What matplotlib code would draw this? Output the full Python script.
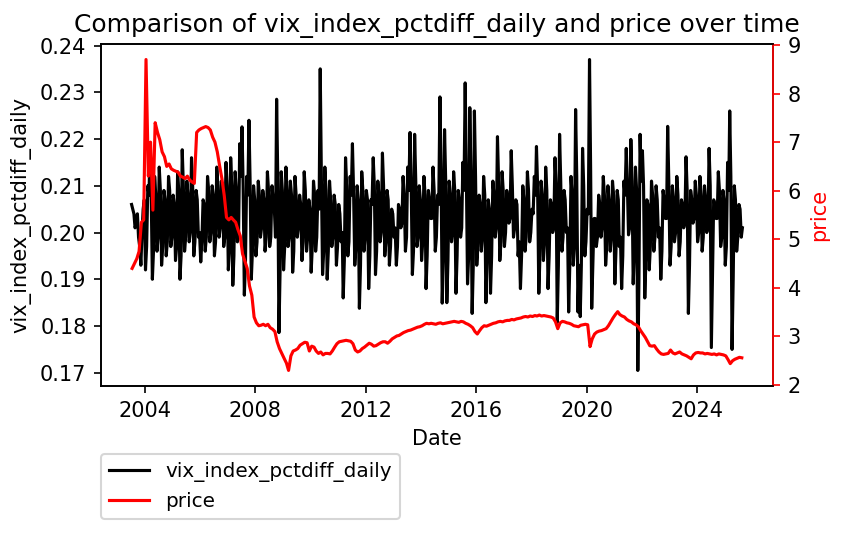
import pandas as pd
from matplotlib import pyplot as plt

months = pd.date_range("2003-07-01", periods=266, freq="MS")

# vix pct-diff, early-month readings (Jul 2003 .. Aug 2025)
vix_early = [
    0.206, 0.204, 0.202, 0.199, 0.193, 0.205,
    0.192, 0.210, 0.2175, 0.190, 0.212, 0.196, 0.214, 0.193, 0.209, 0.195, 0.212, 0.197,
    0.208, 0.194, 0.213, 0.190, 0.2177, 0.196, 0.211, 0.198, 0.216, 0.195, 0.209, 0.199,
    0.1937, 0.207, 0.196, 0.212, 0.198, 0.210, 0.195, 0.214, 0.199, 0.211, 0.197, 0.215,
    0.192, 0.216, 0.1887, 0.213, 0.198, 0.219, 0.2226, 0.1866, 0.212, 0.224, 0.190, 0.210,
    0.195, 0.211, 0.199, 0.209, 0.196, 0.213, 0.197, 0.210, 0.205, 0.2285, 0.1786, 0.213,
    0.192, 0.214, 0.197, 0.211, 0.1915, 0.212, 0.199, 0.208, 0.194, 0.213, 0.196, 0.207,
    0.1915, 0.211, 0.196, 0.209, 0.235, 0.191, 0.214, 0.190, 0.211, 0.197, 0.208, 0.193,
    0.206, 0.198, 0.186, 0.216, 0.195, 0.212, 0.219, 0.193, 0.210, 0.1838, 0.213, 0.196,
    0.209, 0.188, 0.207, 0.216, 0.191, 0.211, 0.198, 0.217, 0.195, 0.209, 0.193, 0.205,
    0.199, 0.193, 0.206, 0.201, 0.212, 0.196, 0.214, 0.2214, 0.191, 0.221, 0.197, 0.210,
    0.194, 0.212, 0.188, 0.209, 0.203, 0.214, 0.196, 0.208, 0.229, 0.1849, 0.222, 0.185,
    0.211, 0.198, 0.213, 0.187, 0.209, 0.199, 0.215, 0.232, 0.189, 0.2267, 0.1827, 0.226,
    0.193, 0.208, 0.196, 0.212, 0.185, 0.207, 0.187, 0.211, 0.199, 0.2205, 0.194, 0.213,
    0.197, 0.209, 0.202, 0.2175, 0.199, 0.207, 0.195, 0.188, 0.210, 0.196, 0.213, 0.198,
    0.205, 0.212, 0.2184, 0.187, 0.211, 0.194, 0.214, 0.188, 0.207, 0.200, 0.216, 0.1808,
    0.221, 0.196, 0.209, 0.200, 0.183, 0.212, 0.193, 0.2263, 0.183, 0.182, 0.218, 0.195,
    0.205, 0.237, 0.1838, 0.203, 0.197, 0.208, 0.199, 0.212, 0.193, 0.210, 0.196, 0.211,
    0.189, 0.209, 0.197, 0.188, 0.211, 0.218, 0.1995, 0.2199, 0.189, 0.214, 0.1705, 0.221,
    0.2175, 0.186, 0.207, 0.192, 0.211, 0.196, 0.210, 0.199, 0.190, 0.209, 0.203, 0.2227,
    0.193, 0.210, 0.198, 0.212, 0.195, 0.207, 0.201, 0.2162, 0.1827, 0.209, 0.202, 0.211,
    0.198, 0.212, 0.196, 0.210, 0.200, 0.218, 0.1754, 0.207, 0.203, 0.213, 0.197, 0.209,
    0.193, 0.215, 0.226, 0.175, 0.210, 0.196, 0.206, 0.199,
]

# vix pct-diff, late-month readings
vix_late = [
    0.205, 0.201, 0.204, 0.197, 0.200, 0.207,
    0.197, 0.208, 0.209, 0.196, 0.208, 0.199, 0.209, 0.197, 0.207, 0.198, 0.209, 0.199,
    0.206, 0.197, 0.209, 0.195, 0.210, 0.199, 0.208, 0.200, 0.210, 0.198, 0.207, 0.200,
    0.198, 0.206, 0.199, 0.209, 0.200, 0.208, 0.198, 0.210, 0.201, 0.208, 0.199, 0.210,
    0.196, 0.210, 0.195, 0.209, 0.199, 0.212, 0.210, 0.194, 0.208, 0.211, 0.196, 0.207,
    0.198, 0.208, 0.201, 0.207, 0.199, 0.209, 0.199, 0.207, 0.199, 0.212, 0.192, 0.209,
    0.197, 0.209, 0.199, 0.208, 0.196, 0.208, 0.201, 0.206, 0.198, 0.209, 0.199, 0.205,
    0.197, 0.208, 0.199, 0.205, 0.212, 0.196, 0.209, 0.196, 0.207, 0.199, 0.206, 0.197,
    0.204, 0.200, 0.194, 0.210, 0.198, 0.208, 0.209, 0.197, 0.207, 0.193, 0.209, 0.199,
    0.207, 0.195, 0.206, 0.210, 0.196, 0.208, 0.200, 0.210, 0.198, 0.207, 0.197, 0.204,
    0.201, 0.197, 0.205, 0.202, 0.208, 0.199, 0.209, 0.211, 0.196, 0.211, 0.199, 0.207,
    0.198, 0.208, 0.195, 0.207, 0.203, 0.209, 0.199, 0.206, 0.213, 0.194, 0.211, 0.194,
    0.208, 0.200, 0.209, 0.195, 0.207, 0.201, 0.209, 0.213, 0.195, 0.212, 0.193, 0.212,
    0.197, 0.206, 0.199, 0.208, 0.194, 0.205, 0.195, 0.208, 0.201, 0.211, 0.198, 0.209,
    0.200, 0.207, 0.203, 0.210, 0.201, 0.206, 0.198, 0.195, 0.207, 0.199, 0.209, 0.200,
    0.204, 0.208, 0.210, 0.195, 0.208, 0.198, 0.209, 0.195, 0.206, 0.201, 0.210, 0.193,
    0.211, 0.199, 0.207, 0.201, 0.193, 0.208, 0.197, 0.212, 0.193, 0.193, 0.210, 0.198,
    0.204, 0.213, 0.193, 0.203, 0.199, 0.206, 0.201, 0.208, 0.197, 0.207, 0.199, 0.208,
    0.196, 0.207, 0.199, 0.195, 0.208, 0.210, 0.201, 0.211, 0.196, 0.209, 0.190, 0.211,
    0.210, 0.194, 0.206, 0.197, 0.208, 0.199, 0.207, 0.201, 0.196, 0.207, 0.203, 0.211,
    0.197, 0.207, 0.200, 0.208, 0.198, 0.206, 0.202, 0.209, 0.193, 0.207, 0.203, 0.208,
    0.200, 0.208, 0.199, 0.207, 0.201, 0.210, 0.191, 0.206, 0.203, 0.209, 0.199, 0.207,
    0.197, 0.209, 0.212, 0.190, 0.207, 0.199, 0.205, 0.201,
]

# price, mid-month readings
price = [
    4.40, 4.50, 4.60, 4.75, 5.35, 5.40,
    8.70, 6.30, 7.00, 5.60, 7.40, 7.20, 7.05, 6.80, 6.70, 6.50, 6.55, 6.45,
    6.42, 6.40, 6.38, 6.30, 6.28, 6.25, 6.30, 6.22, 6.18, 6.15, 7.20, 7.25,
    7.28, 7.30, 7.32, 7.30, 7.25, 7.10, 7.00, 6.80, 6.51, 6.25, 5.90, 5.45,
    5.40, 5.45, 5.40, 5.35, 5.20, 5.07, 4.70, 4.55, 4.40, 4.04, 3.85, 3.40,
    3.28, 3.22, 3.23, 3.25, 3.22, 3.25, 3.18, 3.15, 3.10, 2.89, 2.75, 2.65,
    2.55, 2.45, 2.30, 2.60, 2.70, 2.72, 2.75, 2.82, 2.85, 2.88, 2.87, 2.70,
    2.80, 2.78, 2.70, 2.65, 2.68, 2.62, 2.65, 2.65, 2.64, 2.70, 2.78, 2.85,
    2.89, 2.90, 2.91, 2.92, 2.91, 2.90, 2.85, 2.72, 2.68, 2.70, 2.75, 2.78,
    2.82, 2.86, 2.84, 2.80, 2.81, 2.84, 2.87, 2.89, 2.89, 2.86, 2.90, 2.95,
    2.98, 3.01, 3.02, 3.05, 3.08, 3.10, 3.12, 3.13, 3.15, 3.17, 3.19, 3.20,
    3.22, 3.25, 3.27, 3.26, 3.27, 3.26, 3.25, 3.27, 3.28, 3.26, 3.27, 3.28,
    3.29, 3.30, 3.31, 3.30, 3.29, 3.31, 3.30, 3.27, 3.25, 3.22, 3.18, 3.10,
    3.05, 3.12, 3.18, 3.22, 3.21, 3.23, 3.25, 3.27, 3.28, 3.30, 3.31, 3.30,
    3.32, 3.33, 3.33, 3.35, 3.34, 3.36, 3.37, 3.38, 3.40, 3.41, 3.40, 3.42,
    3.41, 3.43, 3.42, 3.44, 3.42, 3.43, 3.42, 3.41, 3.40, 3.38, 3.30, 3.16,
    3.28, 3.31, 3.30, 3.28, 3.27, 3.25, 3.22, 3.21, 3.20, 3.23, 3.24, 3.25,
    3.24, 2.79, 2.95, 3.05, 3.09, 3.11, 3.12, 3.14, 3.16, 3.22, 3.30, 3.38,
    3.45, 3.51, 3.45, 3.42, 3.40, 3.35, 3.32, 3.30, 3.26, 3.24, 3.20, 3.12,
    3.05, 2.98, 2.90, 2.81, 2.80, 2.81, 2.74, 2.68, 2.64, 2.63, 2.64, 2.65,
    2.72, 2.66, 2.64, 2.66, 2.68, 2.64, 2.62, 2.60, 2.57, 2.54, 2.62, 2.66,
    2.67, 2.66, 2.66, 2.64, 2.65, 2.64, 2.63, 2.64, 2.62, 2.64, 2.63, 2.62,
    2.60, 2.52, 2.44, 2.50, 2.53, 2.55, 2.57, 2.56,
]

vix = pd.concat([
    pd.Series(vix_early, index=months + pd.Timedelta(days=7)),
    pd.Series(vix_late, index=months + pd.Timedelta(days=22)),
]).sort_index()
price_s = pd.Series(price, index=months + pd.Timedelta(days=14))

fig, ax = plt.subplots(figsize=(842 / 150, 534 / 150), dpi=150)
fig.subplots_adjust(left=0.12, right=0.918, top=0.9176, bottom=0.2772)

l1, = ax.plot(vix.index, vix.values, color='black', linewidth=1.5, label='vix_index_pctdiff_daily')
ax.set_xlabel('Date')
ax.set_ylabel('vix_index_pctdiff_daily')

ax2 = ax.twinx()
l2, = ax2.plot(price_s.index, price_s.values, color='red', linewidth=1.5, label='price')
ax2.set_ylabel('price', color='red')
ax2.tick_params(axis='y', color='red')
ax2.spines['right'].set_color('red')

ax.set_title('Comparison of vix_index_pctdiff_daily and price over time')
ax.legend(handles=[l1, l2], loc='upper left', bbox_to_anchor=(0, -0.2),
          borderaxespad=0, fontsize=9.6)

fig.savefig('out.png', dpi=150)
plt.close()
